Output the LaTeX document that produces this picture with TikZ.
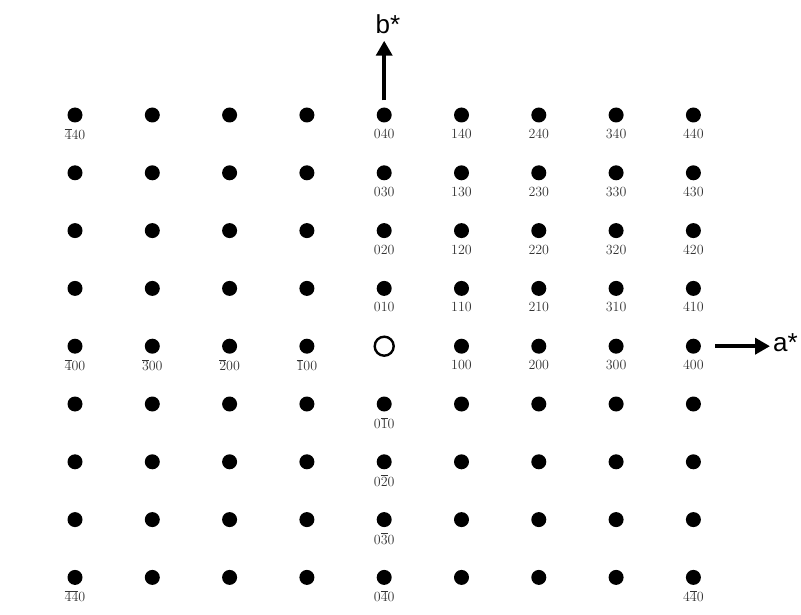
\documentclass[tikz,border=0pt]{standalone}
\usepackage{fontspec}
\newfontfamily\axisfont{Liberation Sans}
\usetikzlibrary{arrows.meta}
\newcommand\nb[1]{\ensuremath{\overline{\mbox{#1}}}}
\begin{document}
\begin{tikzpicture}[x=1pt,y=-1pt,
  spot/.style={circle,fill=black,inner sep=0pt,minimum size=15pt},
  origin/.style={circle,draw=black,line width=2.4pt,inner sep=0pt,minimum size=19pt},
  idx/.style={font=\fontsize{14}{14}\selectfont,text=black!80,inner sep=0pt},
  axislabel/.style={font=\axisfont\fontsize{26}{26}\selectfont,inner sep=0pt},
  axisarrow/.style={line width=4.5pt,-{Triangle[length=15pt,width=16pt]}}]
\useasboundingbox (0,0) rectangle (801,615);
% spots
\foreach \c in {0,...,8}{
  \foreach \r in {0,...,8}{
    \pgfmathsetmacro\xx{75+77.3*\c}
    \pgfmathsetmacro\yy{115+57.8*\r}
    \ifnum\c=4 \ifnum\r=4
      \node[origin] (d\c\r) at (\xx,\yy) {};
    \else
      \node[spot] (d\c\r) at (\xx,\yy) {};
    \fi
    \else
      \node[spot] (d\c\r) at (\xx,\yy) {};
    \fi
  }
}
% index labels
\foreach \c/\r/\t in {
  0/0/{\nb{4}40}, 4/0/{040}, 5/0/{140}, 6/0/{240}, 7/0/{340}, 8/0/{440},
  4/1/{030}, 5/1/{130}, 6/1/{230}, 7/1/{330}, 8/1/{430},
  4/2/{020}, 5/2/{120}, 6/2/{220}, 7/2/{320}, 8/2/{420},
  4/3/{010}, 5/3/{110}, 6/3/{210}, 7/3/{310}, 8/3/{410},
  0/4/{\nb{4}00}, 1/4/{\nb{3}00}, 2/4/{\nb{2}00}, 3/4/{\nb{1}00},
  5/4/{100}, 6/4/{200}, 7/4/{300}, 8/4/{400},
  4/5/{0\nb{1}0}, 4/6/{0\nb{2}0}, 4/7/{0\nb{3}0},
  0/8/{\nb{4}\nb{4}0}, 4/8/{0\nb{4}0}, 8/8/{4\nb{4}0}}{
  \node[idx] (l\c\r) at ([yshift=-19pt]d\c\r.center) {\t};
}
% axes
\node[axislabel] (bstar) at (388,24) {b*};
\draw[axisarrow] ([yshift=7pt]d40.north) -- ([yshift=-7pt]d40.north |- bstar.south);
\node[axislabel,anchor=west] (astar) at (773,343) {a*};
\draw[axisarrow] ([xshift=14pt]d84.east) -- ([xshift=-3pt]astar.west |- d84.east);
\end{tikzpicture}
\end{document}
